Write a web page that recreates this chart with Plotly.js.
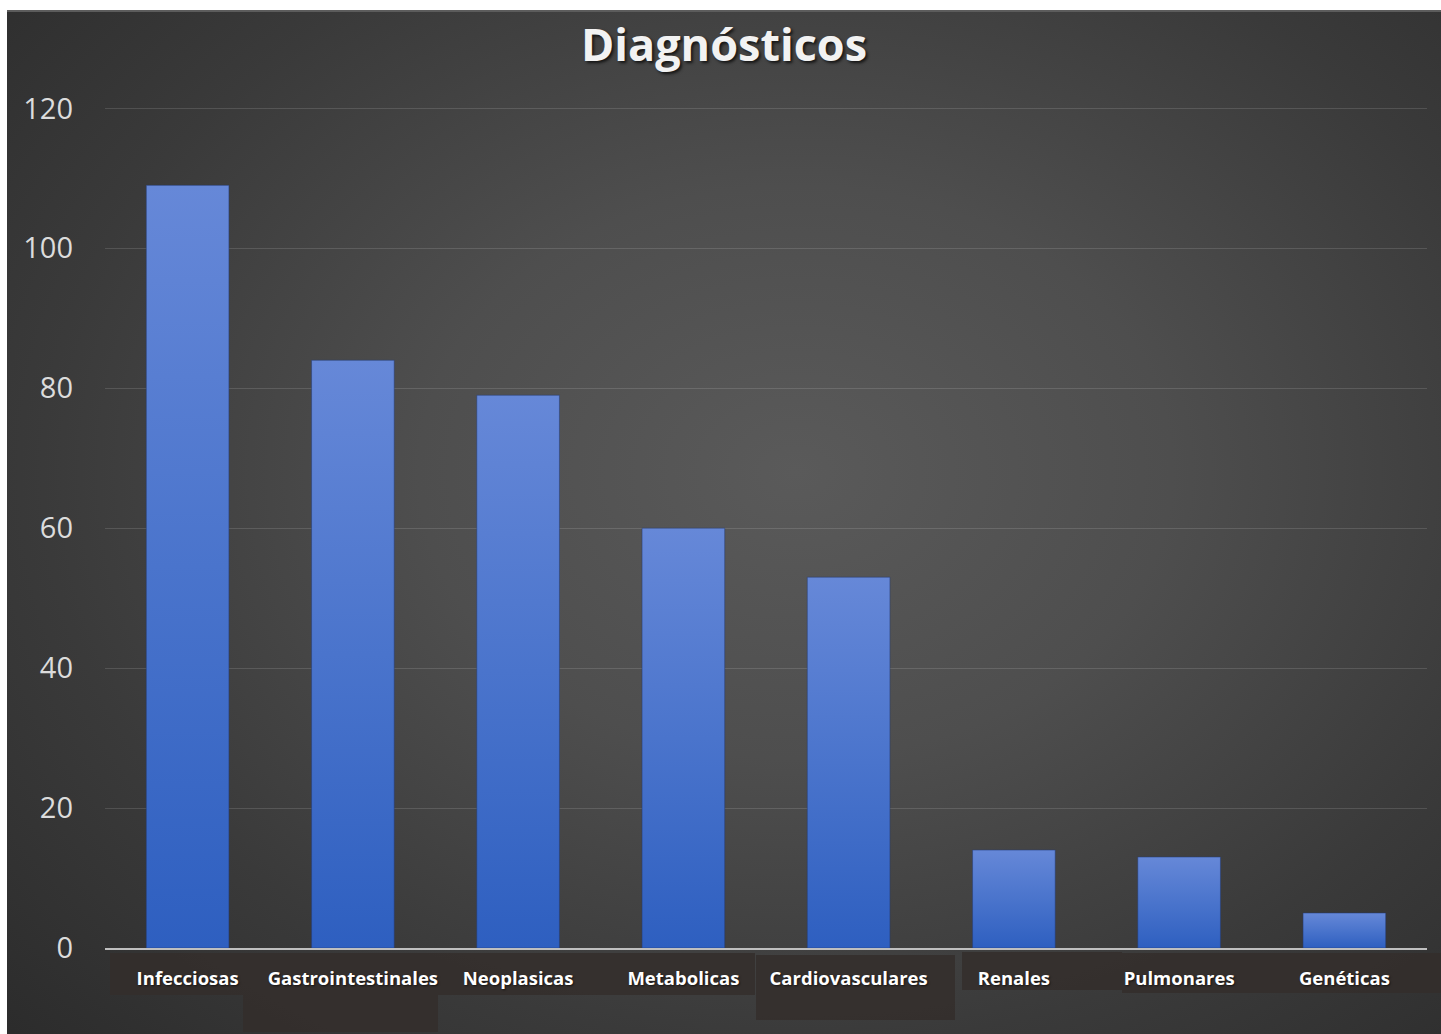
<!DOCTYPE html>
<html>
<head>
<meta charset="utf-8">
<script src="https://cdn.plot.ly/plotly-3.0.1.min.js"></script>
<style>
  html, body { margin: 0; padding: 0; background: #ffffff; width: 1441px; height: 1034px; overflow: hidden; }
  #chart {
    position: absolute; left: 7px; top: 10px; width: 1434px; height: 1024px;
    background: radial-gradient(ellipse 75% 80% at 55% 45%, #5a5a5a 0%, #4e4e4e 35%, #3a3a3a 70%, #2c2c2c 100%);
    border-top: 2px solid #5c5c5c; box-sizing: border-box;
  }
</style>
</head>
<body>
<div id="chart"></div>
<script>
// Data
const categories = ["Infecciosas", "Gastrointestinales", "Neoplasicas", "Metabolicas", "Cardiovasculares", "Renales", "Pulmonares", "Genéticas"];
const values = [109, 84, 79, 60, 53, 14, 13, 5];
const yTicks = [0, 20, 40, 60, 80, 100, 120];

// pixel -> paper helpers for the decorative label boxes (plot area 105..1427 x, ~107..948 y)
const PX0 = 105, PW = 1322, PY0 = 948, PH = 841;
function px(x) { return (x - PX0) / PW; }
function py(y) { return (PY0 - y) / PH; }
function box(x0, x1, y0, y1) {
  return { type: 'rect', xref: 'paper', yref: 'paper', layer: 'below',
    x0: px(x0), x1: px(x1), y0: py(y1), y1: py(y0),
    fillcolor: 'rgba(52,46,44,0.85)', line: { width: 0 } };
}

const trace = {
  type: 'bar',
  x: categories,
  y: values,
  marker: { color: '#4a74cc', line: { color: 'rgba(35,60,120,0.5)', width: 1 } },
  hoverinfo: 'x+y'
};

const layout = {
  width: 1434, height: 1022,
  margin: { l: 98, r: 14, t: 95, b: 86 },
  paper_bgcolor: 'rgba(0,0,0,0)',
  plot_bgcolor: 'rgba(0,0,0,0)',
  bargap: 0.5,
  showlegend: false,
  title: {
    text: '<b>Diagnósticos</b>',
    x: 0.5, xanchor: 'center',
    y: 0.967, yref: 'container', yanchor: 'middle',
    font: { family: 'Open Sans, sans-serif', size: 45, color: '#f2f2f2', shadow: '2px 2px 3px rgba(0,0,0,0.7)' }
  },
  xaxis: {
    type: 'category',
    showgrid: false,
    showline: true, linecolor: '#bfbfbf', linewidth: 2,
    ticks: '',
    ticklabelstandoff: 13,
    tickfont: { family: 'Open Sans, sans-serif', size: 18.5, color: '#ffffff', weight: 'bold', shadow: '1px 1px 2px rgba(0,0,0,0.6)' }
  },
  yaxis: {
    range: [0, 120.2],
    tickvals: yTicks,
    ticktext: yTicks.map(String),
    showgrid: true, gridcolor: 'rgba(255,255,255,0.13)', gridwidth: 1,
    zeroline: false, showline: false, ticks: '',
    ticklabelstandoff: 31,
    tickfont: { family: 'Open Sans, sans-serif', size: 29, color: '#dcdcdc' }
  },
  shapes: [
    box(110, 438, 953, 995),
    box(243, 438, 995, 1032),
    box(438, 755, 953, 995),
    box(756, 955, 955, 1020),
    box(962, 1122, 952, 990),
    box(1122, 1441, 953, 993)
  ]
};

Plotly.newPlot('chart', [trace], layout, { displayModeBar: false, staticPlot: true }).then(function (gd) {
  const svg = gd.querySelector('svg.main-svg');
  const ns = 'http://www.w3.org/2000/svg';
  let defs = svg.querySelector('defs');
  if (!defs) { defs = document.createElementNS(ns, 'defs'); svg.insertBefore(defs, svg.firstChild); }
  const lg = document.createElementNS(ns, 'linearGradient');
  lg.setAttribute('id', 'barGrad');
  lg.setAttribute('x1', '0'); lg.setAttribute('y1', '0');
  lg.setAttribute('x2', '0'); lg.setAttribute('y2', '1');
  [['0%', '#6688d8'], ['50%', '#4a74cc'], ['100%', '#2e5fc0']].forEach(function (s) {
    const st = document.createElementNS(ns, 'stop');
    st.setAttribute('offset', s[0]); st.setAttribute('stop-color', s[1]);
    lg.appendChild(st);
  });
  defs.appendChild(lg);
  gd.querySelectorAll('.trace.bars .point path').forEach(function (p) {
    p.style.fill = 'url(#barGrad)';
  });
});
</script>
</body>
</html>
